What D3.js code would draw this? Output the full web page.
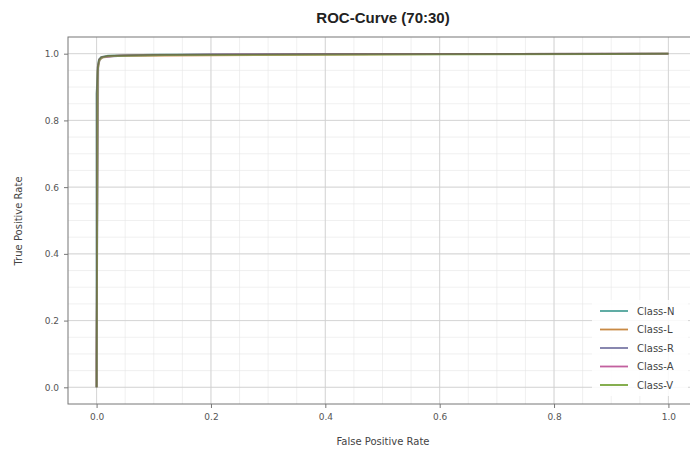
<!DOCTYPE html>
<html>
<head>
<meta charset="utf-8">
<script src="https://cdn.jsdelivr.net/npm/d3@7"></script>
<style>
  body { margin: 0; background: #fff; }
  text { font-family: "DejaVu Sans", sans-serif; }
</style>
</head>
<body>
<div id="root"></div>
<script>
// class names and colours
var classes = ["Class-N", "Class-L", "Class-R", "Class-A", "Class-V"];
var colors = ["#4ea39a", "#c98a45", "#7b7aa6", "#c2609f", "#78a53c"];

// roc points (fpr / tpr per class)
var fprN = [0, 0, 0.002, 0.004, 0.008, 0.02, 0.1, 0.4, 1];
var tprN = [0, 0.88, 0.96, 0.982, 0.99, 0.994, 0.997, 0.999, 1];
var fprL = [0, 0, 0.002, 0.005, 0.01, 0.03, 0.3, 0.6, 1];
var tprL = [0, 0.09, 0.95, 0.98, 0.988, 0.993, 0.996, 0.999, 1];
var fprR = [0, 0, 0.003, 0.006, 0.012, 0.05, 0.2, 1];
var tprR = [0, 0.09, 0.965, 0.984, 0.99, 0.994, 0.998, 1];
var fprA = [0, 0, 0.002, 0.005, 0.01, 0.04, 0.25, 1];
var tprA = [0, 0.09, 0.96, 0.983, 0.99, 0.995, 0.998, 1];
var fprV = [0, 0.002, 0.004, 0.008, 0.02, 0.12, 0.9, 1];
var tprV = [0, 0.95, 0.978, 0.988, 0.993, 0.996, 0.999, 1];

var fprs = [fprN, fprL, fprR, fprA, fprV];
var tprs = [tprN, tprL, tprR, tprA, tprV];

var ticks = [0, 0.2, 0.4, 0.6, 0.8, 1.0];
var minorTicks = d3.range(0, 21).map(function (i) { return i * 0.05; });

var svgWidth = 690, svgHeight = 455;
var margin = { top: 37, right: -7, bottom: 51, left: 68 };
var width = svgWidth - margin.left - margin.right,
    height = svgHeight - margin.top - margin.bottom;

var svgH = d3.select("#root").append("svg")
    .attr("width", svgWidth)
    .attr("height", svgHeight);

var svg = svgH.append("g")
    .attr("transform", "translate(" + margin.left + "," + margin.top + ")");

var x = d3.scaleLinear().domain([-0.05, 1.05]).range([0, width]);
var y = d3.scaleLinear().domain([-0.05, 1.05]).range([height, 0]);

// minor grid
svg.append("g").selectAll("line")
    .data(minorTicks)
    .enter().append("line")
    .attr("x1", function (d) { return x(d); })
    .attr("x2", function (d) { return x(d); })
    .attr("y1", 0).attr("y2", height)
    .attr("stroke", "#e6e6e6").attr("stroke-width", 0.6);
svg.append("g").selectAll("line")
    .data(minorTicks)
    .enter().append("line")
    .attr("y1", function (d) { return y(d); })
    .attr("y2", function (d) { return y(d); })
    .attr("x1", 0).attr("x2", width)
    .attr("stroke", "#e6e6e6").attr("stroke-width", 0.6);

// major grid
svg.append("g").selectAll("line")
    .data(ticks)
    .enter().append("line")
    .attr("x1", function (d) { return x(d); })
    .attr("x2", function (d) { return x(d); })
    .attr("y1", 0).attr("y2", height)
    .attr("stroke", "#cfcfcf").attr("stroke-width", 0.8);
svg.append("g").selectAll("line")
    .data(ticks)
    .enter().append("line")
    .attr("y1", function (d) { return y(d); })
    .attr("y2", function (d) { return y(d); })
    .attr("x1", 0).attr("x2", width)
    .attr("stroke", "#cfcfcf").attr("stroke-width", 0.8);

// curves
var line = d3.line()
    .x(function (d) { return x(d[0]); })
    .y(function (d) { return y(d[1]); });

classes.forEach(function (c, i) {
    var pts = fprs[i].map(function (f, j) { return [f, tprs[i][j]]; });
    svg.append("path")
        .datum(pts)
        .attr("fill", "none")
        .attr("stroke", colors[i])
        .attr("stroke-width", 1.8)
        .attr("stroke-opacity", 0.75)
        .attr("d", line);
});
// dark overlap look
svg.append("path")
    .datum(fprN.map(function (f, j) { return [f, tprN[j]]; }))
    .attr("fill", "none")
    .attr("stroke", "#5a5a48")
    .attr("stroke-width", 1.6)
    .attr("stroke-opacity", 0.6)
    .attr("d", line);

// axes frame
svg.append("rect")
    .attr("width", width).attr("height", height)
    .attr("fill", "none")
    .attr("stroke", "#777").attr("stroke-width", 1);

var xAxis = svg.append("g")
    .attr("transform", "translate(0," + height + ")")
    .call(d3.axisBottom(x).tickValues(ticks).tickFormat(d3.format(".1f")).tickSize(4).tickPadding(6));
var yAxis = svg.append("g")
    .call(d3.axisLeft(y).tickValues(ticks).tickFormat(d3.format(".1f")).tickSize(4).tickPadding(5));
[xAxis, yAxis].forEach(function (a) {
    a.select(".domain").remove();
    a.selectAll("line").attr("stroke", "#777");
    a.selectAll("text").attr("fill", "#555").attr("font-size", 9)
        .style("font-family", "DejaVu Sans, sans-serif");
});

// labels
svgH.append("text")
    .attr("x", 383).attr("y", 23)
    .attr("text-anchor", "middle")
    .attr("font-size", 15).attr("font-weight", "bold")
    .attr("fill", "#222")
    .style("font-family", "Liberation Sans, Arial, sans-serif")
    .text("ROC-Curve (70:30)");

svgH.append("text")
    .attr("x", 383).attr("y", 445)
    .attr("text-anchor", "middle")
    .attr("font-size", 10).attr("fill", "#444")
    .text("False Positive Rate");

svgH.append("text")
    .attr("transform", "translate(22,221) rotate(-90)")
    .attr("text-anchor", "middle")
    .attr("font-size", 10).attr("fill", "#444")
    .text("True Positive Rate");

// legend
var lg = svgH.append("g").attr("transform", "translate(592,300)");
lg.append("rect")
    .attr("width", 96).attr("height", 96)
    .attr("fill", "#fff").attr("fill-opacity", 0.85);
var items = lg.selectAll("g.item")
    .data(classes)
    .enter().append("g")
    .attr("transform", function (d, i) { return "translate(0," + (11 + i * 18.5) + ")"; });
items.append("line")
    .attr("x1", 8).attr("x2", 36)
    .attr("stroke", function (d, i) { return colors[i]; })
    .attr("stroke-width", 1.8);
items.append("text")
    .attr("x", 45).attr("dy", "0.35em")
    .attr("font-size", 10).attr("fill", "#444")
    .text(function (d) { return d; });
</script>
</body>
</html>
